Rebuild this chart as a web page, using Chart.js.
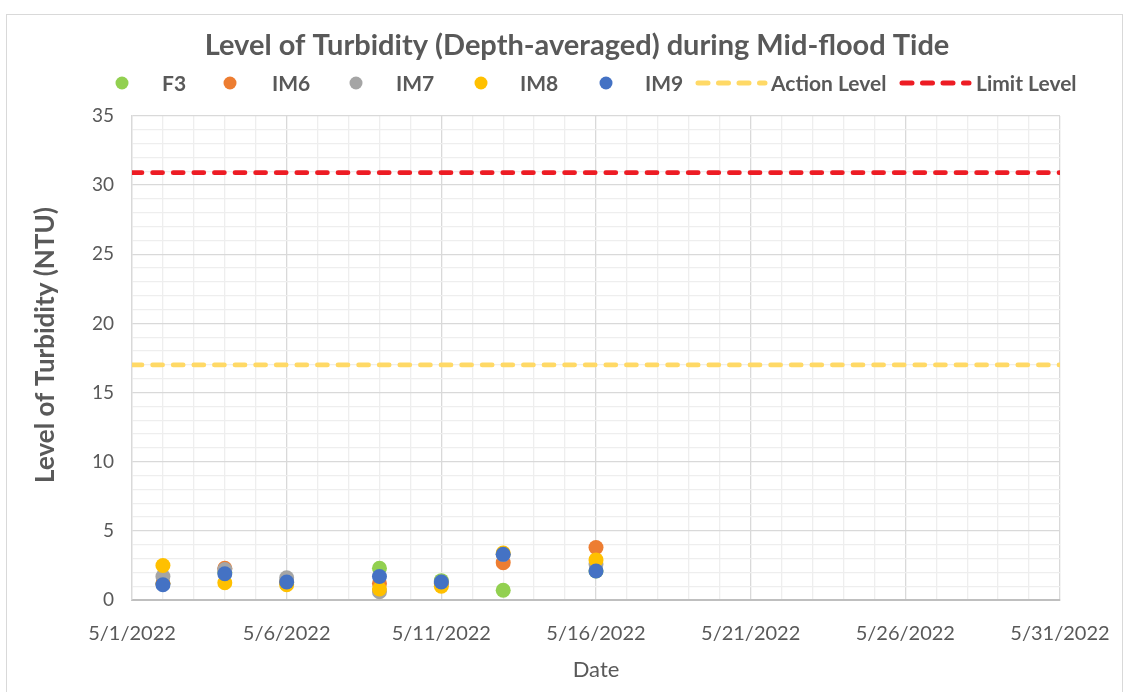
<!DOCTYPE html>
<html>
<head>
<meta charset="utf-8">
<script src="https://cdn.jsdelivr.net/npm/chart.js@4.4.1/dist/chart.umd.min.js"></script>
<style>
  html, body { margin: 0; padding: 0; background: #fff; }
  #wrap { position: relative; width: 1128px; height: 692px; overflow: hidden; }
  #frame { position: absolute; left: 6px; top: 14px; width: 1117px; height: 700px; border: 1px solid #D9D9D9; box-sizing: border-box; pointer-events: none; }
  canvas { position: absolute; left: 0; top: 0; }
</style>
</head>
<body>
<div id="wrap">
  <canvas id="c" width="1128" height="692"></canvas>
  <div id="frame"></div>
</div>
<script>
// ---- Data ----
const dates = ['5/2/2022', '5/4/2022', '5/6/2022', '5/9/2022', '5/11/2022', '5/13/2022', '5/16/2022'];
const F3  = [1.2, 2.0, 1.3, 2.3, 1.4, 0.7, 2.1];
const IM6 = [1.2, 2.3, 1.3, 1.2, 1.2, 2.7, 3.8];
const IM7 = [1.7, 2.2, 1.6, 0.6, 1.3, 3.3, 2.6];
const IM8 = [2.5, 1.25, 1.1, 0.8, 1.0, 3.4, 2.9];
const IM9 = [1.1, 1.9, 1.3, 1.7, 1.3, 3.3, 2.1];
const actionLevel = 17;
const limitLevel = 30.9;
const axisStart = '5/1/2022';
const axisEnd = '5/31/2022';
const yTicks = [0, 5, 10, 15, 20, 25, 30, 35];

const dayOf = s => parseInt(s.split('/')[1], 10);
const pts = arr => arr.map((v, i) => ({ x: dayOf(dates[i]), y: v }));
const xMin = dayOf(axisStart), xMax = dayOf(axisEnd);

const TXT = '#595959';
const FONT = 'Lato, "Open Sans", "DejaVu Sans", sans-serif';

const series = [
  { label: 'F3',  data: F3,  color: '#92D050' },
  { label: 'IM6', data: IM6, color: '#ED7D31' },
  { label: 'IM7', data: IM7, color: '#A5A5A5' },
  { label: 'IM8', data: IM8, color: '#FFC000' },
  { label: 'IM9', data: IM9, color: '#4472C4' }
];

const datasets = series.map((s, i) => ({
  type: 'scatter',
  label: s.label,
  data: pts(s.data),
  backgroundColor: s.color,
  borderColor: s.color,
  borderWidth: 0,
  pointRadius: 7.5,
  pointHoverRadius: 7.5,
  order: 10 - i
}));
datasets.push({
  type: 'line', label: 'Action Level',
  data: [{ x: xMin, y: actionLevel }, { x: xMax, y: actionLevel }],
  borderColor: '#FFD966', borderWidth: 4.7, borderDash: [10, 10.6], borderCapStyle: 'round',
  pointRadius: 0, fill: false, order: 20
});
datasets.push({
  type: 'line', label: 'Limit Level',
  data: [{ x: xMin, y: limitLevel }, { x: xMax, y: limitLevel }],
  borderColor: '#ED1C24', borderWidth: 4.7, borderDash: [10, 10.6], borderCapStyle: 'round',
  pointRadius: 0, fill: false, order: 21
});

// legend / title layout (positions only)
const legendY = 83;
const legendItems = [
  { type: 'dot', mx: 122, tx: 162 },
  { type: 'dot', mx: 230, tx: 272 },
  { type: 'dot', mx: 356, tx: 396 },
  { type: 'dot', mx: 481, tx: 520 },
  { type: 'dot', mx: 606, tx: 645 },
  { type: 'line', mx0: 698, mx1: 765, tx: 771 },
  { type: 'line', mx0: 902, mx1: 969, tx: 976 }
];

const decor = {
  id: 'decor',
  afterDraw(chart) {
    const ctx = chart.ctx;
    ctx.save();
    // title
    ctx.fillStyle = TXT;
    ctx.font = 'bold 29px ' + FONT;
    ctx.textAlign = 'center';
    ctx.textBaseline = 'middle';
    ctx.fillText('Level of Turbidity (Depth-averaged) during Mid-flood Tide', 577, 46);
    // y axis title
    ctx.save();
    ctx.translate(46, 345);
    ctx.rotate(-Math.PI / 2);
    ctx.font = 'bold 26px ' + FONT;
    ctx.fillText('Level of Turbidity (NTU)', 0, 0);
    ctx.restore();
    // legend
    ctx.font = 'bold 21px ' + FONT;
    ctx.textAlign = 'left';
    chart.data.datasets.forEach((ds, i) => {
      const it = legendItems[i];
      if (it.type === 'dot') {
        ctx.beginPath();
        ctx.fillStyle = ds.backgroundColor;
        ctx.arc(it.mx, legendY, 6.5, 0, Math.PI * 2);
        ctx.fill();
      } else {
        ctx.beginPath();
        ctx.strokeStyle = ds.borderColor;
        ctx.lineWidth = 5;
        ctx.lineCap = 'round';
        ctx.setLineDash([10, 10.5]);
        ctx.moveTo(it.mx0, legendY);
        ctx.lineTo(it.mx1, legendY);
        ctx.stroke();
        ctx.setLineDash([]);
      }
      ctx.fillStyle = TXT;
      ctx.fillText(ds.label, it.tx, legendY + 1);
    });
    ctx.restore();
  }
};

new Chart(document.getElementById('c'), {
  data: { datasets },
  plugins: [decor],
  options: {
    responsive: false,
    animation: false,
    events: [],
    layout: { padding: { top: 116, left: 30, right: 68, bottom: 9 } },
    plugins: { legend: { display: false }, title: { display: false }, tooltip: { enabled: false } },
    scales: {
      x: {
        type: 'linear', min: xMin, max: xMax,
        afterFit(s) { s.height = 83; s.paddingLeft = 0; s.paddingRight = 0; },
        ticks: {
          stepSize: 1, autoSkip: false, maxRotation: 0, padding: 22,
          color: TXT, font: { family: FONT, size: 20 },
          callback: v => ((v - xMin) % 5 === 0 ? `5/${v}/2022` : '')
        },
        grid: {
          drawTicks: false,
          color: c => ((c.tick.value - xMin) % 5 === 0 ? '#D9D9D9' : '#EEEEEE'),
          lineWidth: 1.3
        },
        border: { color: '#BFBFBF', width: 2 },
        title: { display: true, text: 'Date', color: TXT, font: { family: FONT, size: 22 }, padding: 0 }
      },
      y: {
        min: 0, max: 35,
        afterFit(s) { s.width = 102; s.paddingTop = 0; s.paddingBottom = 0; },
        ticks: {
          stepSize: 1, autoSkip: false, padding: 18,
          color: TXT, font: { family: FONT, size: 19 },
          callback: v => (yTicks.includes(v) ? v : '')
        },
        grid: {
          drawTicks: false,
          color: c => (c.tick.value % 5 === 0 ? '#D9D9D9' : '#EEEEEE'),
          lineWidth: 1.3
        },
        border: { color: '#D9D9D9', width: 1.3 },
        title: { display: false }
      }
    }
  }
});
</script>
</body>
</html>
